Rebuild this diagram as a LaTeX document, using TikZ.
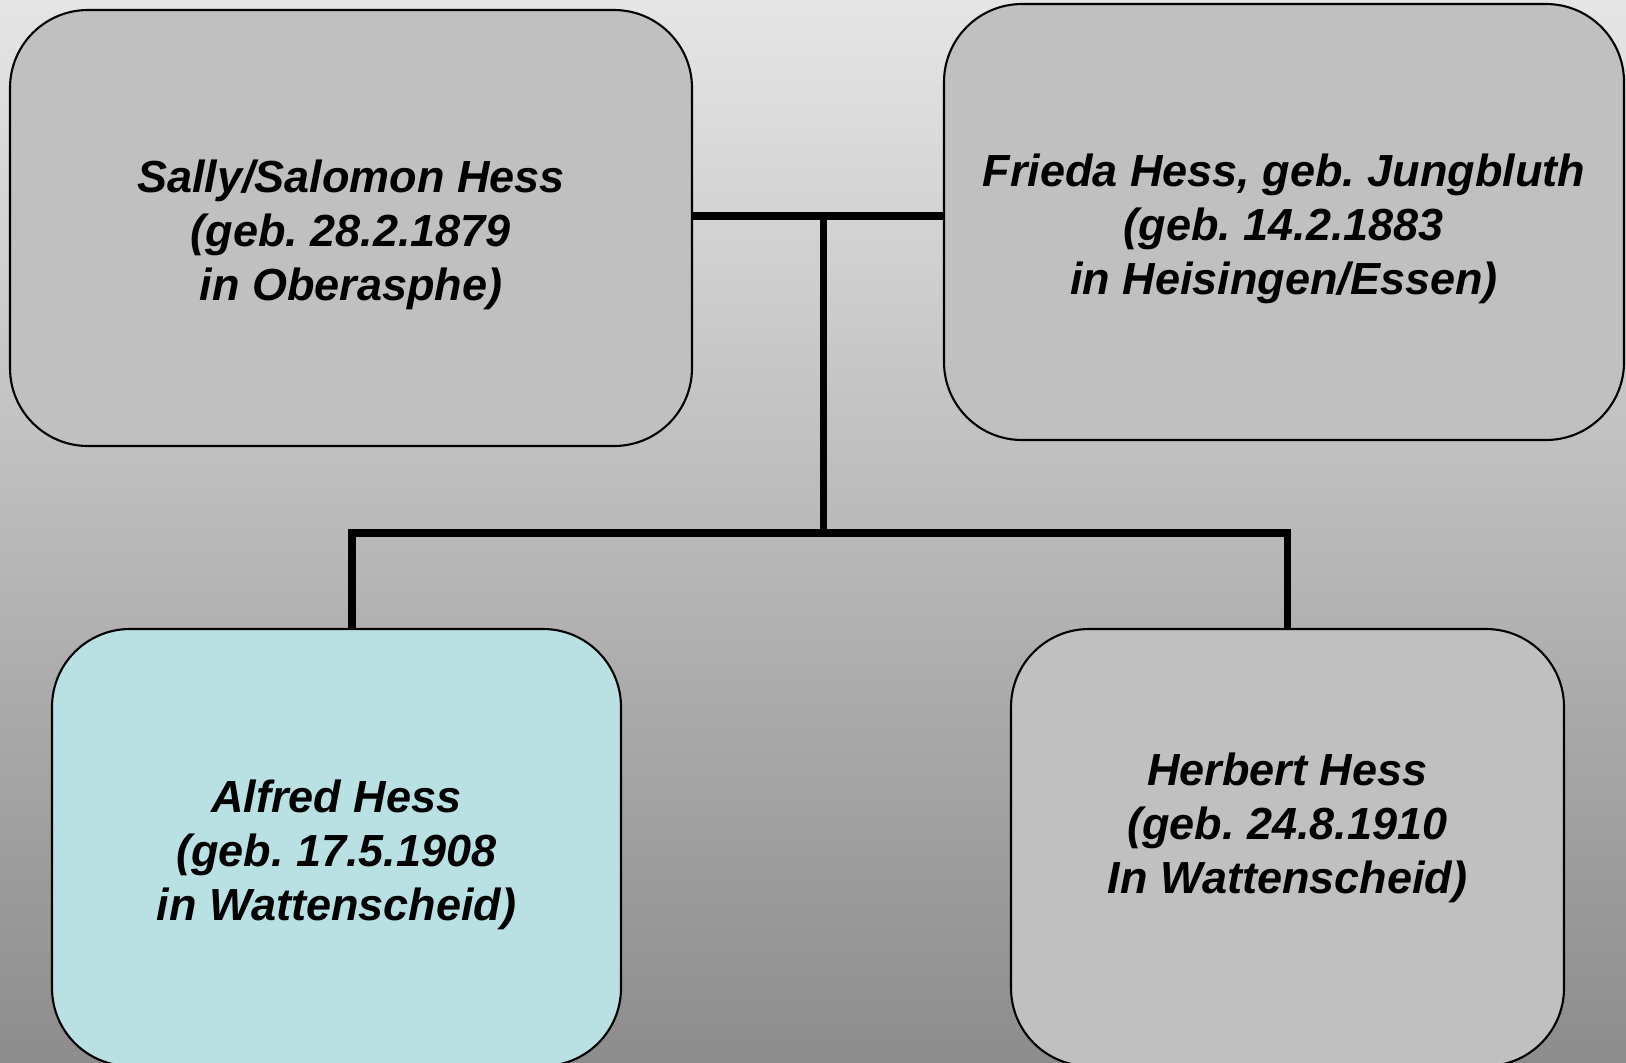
\documentclass[tikz,border=0pt]{standalone}
\usepackage{fontspec}
\setmainfont{Liberation Sans}
\usetikzlibrary{positioning}
\definecolor{boxgray}{RGB}{192,192,192}
\definecolor{boxcyan}{RGB}{185,224,227}
\frenchspacing

\begin{document}
\begin{tikzpicture}[
  person/.style={draw, line width=0.6pt, rounded corners=0.78cm, fill=boxgray, inner sep=0pt},
  ptext/.style={align=center, inner sep=0pt, font=\fontsize{12.8}{15.4}\selectfont\bfseries\itshape},
  link/.style={line width=2pt}]

% Hintergrund
\clip (0,0) rectangle (16.26,-10.62);
\shade[top color=black!10, bottom color=black!45] (0,0) rectangle (16.26,-10.62);

% Eltern
\node[person, minimum width=6.82cm, minimum height=4.36cm] (sally) at (3.51,-2.28) {};
\node[person, minimum width=6.80cm, minimum height=4.36cm] (frieda) at (12.84,-2.22) {};
\node[ptext] (sallyT) at ([yshift=-0.07cm]sally.center)
  {Sally/Salomon Hess\\(geb. 28.2.1879\\in Oberasphe)};
\node[ptext] (friedaT) at ([yshift=-0.07cm]frieda.center)
  {Frieda Hess, geb. Jungbluth\\(geb. 14.2.1883\\in Heisingen/Essen)};

% Kinder
\node[person, fill=boxcyan, minimum width=5.69cm, minimum height=4.37cm] (alfred) at (3.365,-8.475) {};
\node[person, minimum width=5.53cm, minimum height=4.37cm] (herbert) at (12.875,-8.475) {};
\node[ptext] (alfredT) at ([yshift=-0.07cm]alfred.center)
  {Alfred Hess\\(geb. 17.5.1908\\in Wattenscheid)};
\node[ptext] (herbertT) at ([yshift=0.20cm]herbert.center)
  {Herbert Hess\\(geb. 24.8.1910\\In Wattenscheid)};

% Verbindungen
\coordinate (ehe) at (8.23,-2.16);
\coordinate (gabel) at (8.23,-5.33);
\coordinate (dropA) at (3.52,-5.33);
\coordinate (dropH) at (12.875,-5.33);
\draw[link] (sally.east |- ehe) -- (frieda.west |- ehe);
\draw[link] (ehe) -- (gabel);
\draw[link] (dropA |- alfred.north) -- (dropA) -- (dropH) -- (herbert.north);

\end{tikzpicture}
\end{document}
